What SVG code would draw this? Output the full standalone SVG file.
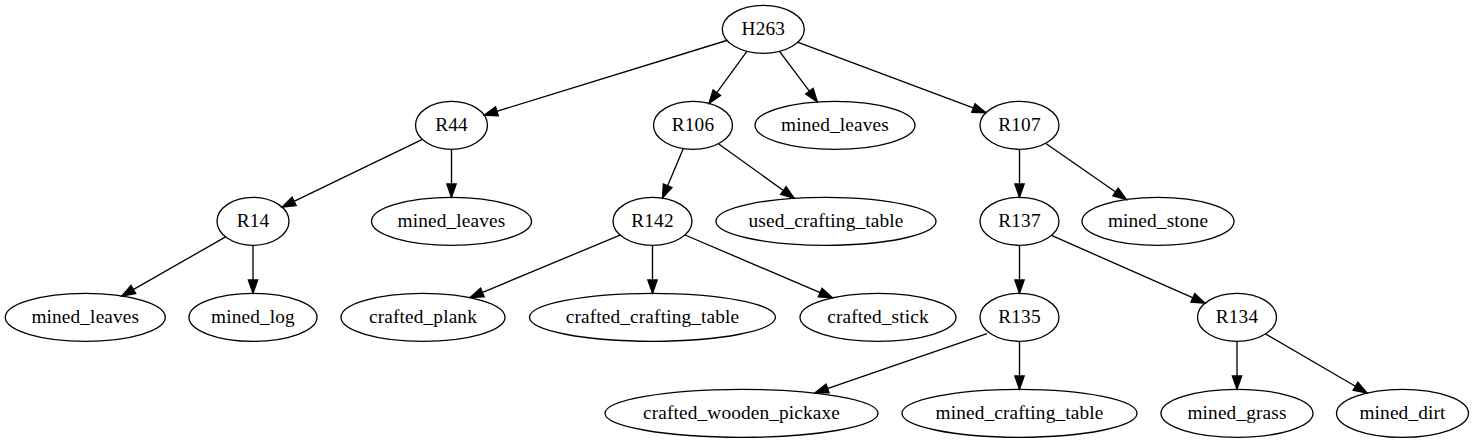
<svg xmlns="http://www.w3.org/2000/svg" width="1474" height="443" viewBox="0 0 1474 443">
<style>
.node ellipse{fill:none;stroke:#000;stroke-width:1.33}
.node text{font-family:"Liberation Serif","Times New Roman",serif;font-size:19.3px;letter-spacing:0.15px;fill:#000;text-anchor:middle}
.edge{fill:none;stroke:#000;stroke-width:1.33;marker-end:url(#arr)}
</style>
<defs>
<marker id="arr" markerUnits="userSpaceOnUse" viewBox="-1 -6 16 12" refX="13.33" refY="0" markerWidth="16" markerHeight="12" orient="auto">
<path d="M0,-4.67 L13.33,0 L0,4.67 Z" fill="#000" stroke="#000" stroke-width="1.33"/>
</marker>
</defs>
<rect width="1474" height="443" fill="#fff"/>
<g id="connectors">
<path class="edge" d="M726.7,40.5 L484.2,115.2"/>
<path class="edge" d="M746.9,51.4 L709,103.4"/>
<path class="edge" d="M779.5,51.3 L817.4,101.9"/>
<path class="edge" d="M797.5,42.2 L985.9,112.7"/>
<path class="edge" d="M422.4,139.4 L282.1,207.2"/>
<path class="edge" d="M451.5,149.3 L451.5,197.3"/>
<path class="edge" d="M683.3,148.6 L662.5,198"/>
<path class="edge" d="M718.4,143.7 L794.2,198.3"/>
<path class="edge" d="M1019.5,149.3 L1019.5,197.3"/>
<path class="edge" d="M1045.5,143.3 L1126.5,199.5"/>
<path class="edge" d="M225.6,236.9 L121.8,296.1"/>
<path class="edge" d="M253,245.3 L253,293.3"/>
<path class="edge" d="M620.7,234.8 L470.1,297.6"/>
<path class="edge" d="M652.5,245.3 L652.5,293.3"/>
<path class="edge" d="M685,235 L832.4,297.8"/>
<path class="edge" d="M1019.5,245.3 L1019.5,293.3"/>
<path class="edge" d="M1051.5,235.4 L1205,303.2"/>
<path class="edge" d="M987,333.6 L815,392.8"/>
<path class="edge" d="M1019.5,341.3 L1019.5,389.3"/>
<path class="edge" d="M1237,341.3 L1237,389.3"/>
<path class="edge" d="M1265.5,333.9 L1367,393"/>
</g>
<g id="H263" class="node"><ellipse cx="763.3" cy="29.3" rx="41" ry="24"/><text x="763.3" y="34.5">H263</text></g>
<g id="R44" class="node"><ellipse cx="451.5" cy="125.3" rx="36" ry="24"/><text x="451.5" y="130.5">R44</text></g>
<g id="R106" class="node"><ellipse cx="693" cy="125.3" rx="39.5" ry="24"/><text x="693" y="130.5">R106</text></g>
<g id="mined_leaves_1" class="node"><ellipse cx="835" cy="125.3" rx="80" ry="24"/><text x="835" y="130.5">mined_leaves</text></g>
<g id="R107" class="node"><ellipse cx="1019.5" cy="125.3" rx="39.5" ry="24"/><text x="1019.5" y="130.5">R107</text></g>
<g id="R14" class="node"><ellipse cx="253" cy="221.3" rx="36" ry="24"/><text x="253" y="226.5">R14</text></g>
<g id="mined_leaves_2" class="node"><ellipse cx="451.5" cy="221.3" rx="80" ry="24"/><text x="451.5" y="226.5">mined_leaves</text></g>
<g id="R142" class="node"><ellipse cx="652.5" cy="221.3" rx="39.5" ry="24"/><text x="652.5" y="226.5">R142</text></g>
<g id="used_crafting_table" class="node"><ellipse cx="826" cy="221.3" rx="110" ry="24"/><text x="826" y="226.5">used_crafting_table</text></g>
<g id="R137" class="node"><ellipse cx="1019.5" cy="221.3" rx="39.5" ry="24"/><text x="1019.5" y="226.5">R137</text></g>
<g id="mined_stone" class="node"><ellipse cx="1158" cy="221.3" rx="76" ry="24"/><text x="1158" y="226.5">mined_stone</text></g>
<g id="mined_leaves_3" class="node"><ellipse cx="85.3" cy="317.3" rx="80" ry="24"/><text x="85.3" y="322.5">mined_leaves</text></g>
<g id="mined_log" class="node"><ellipse cx="253" cy="317.3" rx="64" ry="24"/><text x="253" y="322.5">mined_log</text></g>
<g id="crafted_plank" class="node"><ellipse cx="423" cy="317.3" rx="82" ry="24"/><text x="423" y="322.5">crafted_plank</text></g>
<g id="crafted_crafting_table" class="node"><ellipse cx="652.5" cy="317.3" rx="123" ry="24"/><text x="652.5" y="322.5">crafted_crafting_table</text></g>
<g id="crafted_stick" class="node"><ellipse cx="878" cy="317.3" rx="78" ry="24"/><text x="878" y="322.5">crafted_stick</text></g>
<g id="R135" class="node"><ellipse cx="1019.5" cy="317.3" rx="39.5" ry="24"/><text x="1019.5" y="322.5">R135</text></g>
<g id="R134" class="node"><ellipse cx="1237" cy="317.3" rx="39.5" ry="24"/><text x="1237" y="322.5">R134</text></g>
<g id="crafted_wooden_pickaxe" class="node"><ellipse cx="741.5" cy="413.3" rx="136.5" ry="24"/><text x="741.5" y="418.5">crafted_wooden_pickaxe</text></g>
<g id="mined_crafting_table" class="node"><ellipse cx="1019.5" cy="413.3" rx="117.5" ry="24"/><text x="1019.5" y="418.5">mined_crafting_table</text></g>
<g id="mined_grass" class="node"><ellipse cx="1237" cy="413.3" rx="76" ry="24"/><text x="1237" y="418.5">mined_grass</text></g>
<g id="mined_dirt" class="node"><ellipse cx="1402.5" cy="413.3" rx="66" ry="24"/><text x="1402.5" y="418.5">mined_dirt</text></g>
</svg>
